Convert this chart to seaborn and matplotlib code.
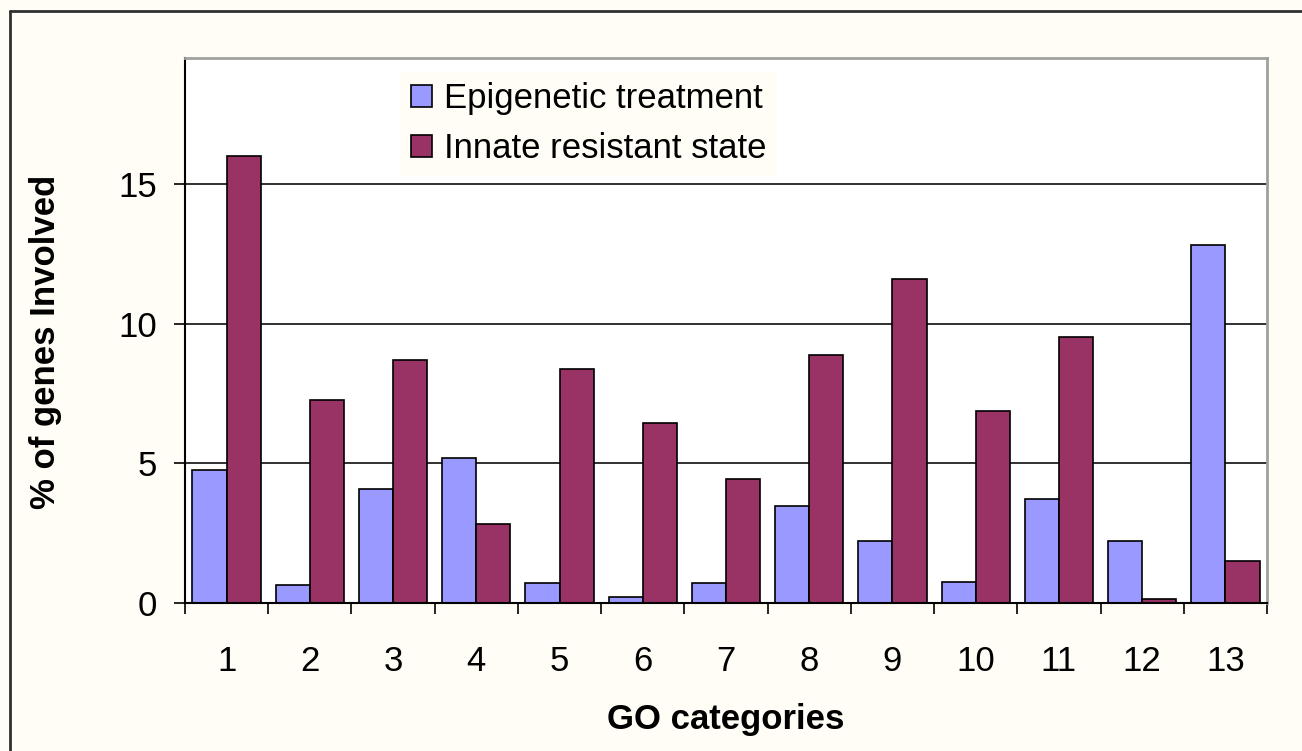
import numpy as np
import pandas as pd
import seaborn as sns
import matplotlib.pyplot as plt
from matplotlib.lines import Line2D

categories = [str(i) for i in range(1, 14)]
epigenetic = [4.77, 0.65, 4.09, 5.2, 0.72, 0.22, 0.72, 3.48, 2.22, 0.75, 3.73, 2.22, 12.8]
innate = [16.0, 7.28, 8.71, 2.83, 8.39, 6.45, 4.44, 8.89, 11.6, 6.88, 9.5, 0.15, 1.5]
series_names = ["Epigenetic treatment", "Innate resistant state"]

df = pd.DataFrame({
    "cat": categories * 2,
    "value": epigenetic + innate,
    "series": [series_names[0]] * 13 + [series_names[1]] * 13,
})

sns.set_theme(style="white")
plt.rcParams["font.family"] = ["Liberation Sans", "DejaVu Sans"]
plt.rcParams["text.color"] = "black"
plt.rcParams["axes.labelcolor"] = "black"
plt.rcParams["xtick.color"] = "black"
plt.rcParams["ytick.color"] = "black"

bg = "#FFFDF5"
fig = plt.figure(figsize=(13.02, 7.51), dpi=100, facecolor=bg)
ax = fig.add_axes([185 / 1302, 1 - 603 / 751, 1082 / 1302, 545 / 751])
ax.set_facecolor("white")

sns.barplot(data=df, x="cat", y="value", hue="series", order=categories,
            palette=["#9999FF", "#993366"], saturation=1, width=0.82, gap=0,
            edgecolor="black", linewidth=1.2, ax=ax)

ax.set_xlim(-0.5, 12.5)
ax.set_ylim(0, 19.5)
ax.set_yticks([0, 5, 10, 15])
ax.yaxis.grid(True, color="#303030", linewidth=1.4)
ax.set_axisbelow(True)

ax.set_xticks(np.arange(-0.5, 13, 1))
ax.set_xticklabels([])
ax.set_xticks(np.arange(13), minor=True)
ax.set_xticklabels(categories, minor=True)
ax.tick_params(axis="x", which="major", direction="out", length=8, width=1.2,
               color="black", bottom=True)
ax.tick_params(axis="x", which="minor", length=0, pad=30, labelsize=25)
ax.tick_params(axis="y", direction="out", length=8, width=1.2, color="black",
               left=True, pad=12, labelsize=25)

for s in ["left", "bottom"]:
    ax.spines[s].set_color("black")
    ax.spines[s].set_linewidth(1.5)
for s in ["top", "right"]:
    ax.spines[s].set_color("#a0a0a0")
    ax.spines[s].set_linewidth(2)

ax.set_xlabel("GO categories", fontsize=25, fontweight="bold", labelpad=18)
ax.set_ylabel("% of genes Involved", fontsize=25, fontweight="bold")
ax.yaxis.set_label_coords(-0.1137, 0.479)

leg = ax.legend(loc="upper left", bbox_to_anchor=(0.199, 0.975), fontsize=25,
                frameon=True, fancybox=False, handlelength=0.6, handleheight=0.6,
                handletextpad=0.35, labelspacing=0.5, borderpad=0.3,
                borderaxespad=0)
leg.get_frame().set_facecolor(bg)
leg.get_frame().set_edgecolor("none")
leg.get_frame().set_alpha(1)
for h in leg.legend_handles:
    h.set_edgecolor("black")
    h.set_linewidth(1.2)

# outer chart frame (left and top edges visible)
fig.add_artist(Line2D([10 / 1302, 10 / 1302], [0, 1 - 11 / 751], transform=fig.transFigure,
                      color="#303030", linewidth=2))
fig.add_artist(Line2D([10 / 1302, 1], [1 - 11 / 751, 1 - 11 / 751], transform=fig.transFigure,
                      color="#303030", linewidth=2))

fig.savefig("out.png", dpi=100, facecolor=bg)
